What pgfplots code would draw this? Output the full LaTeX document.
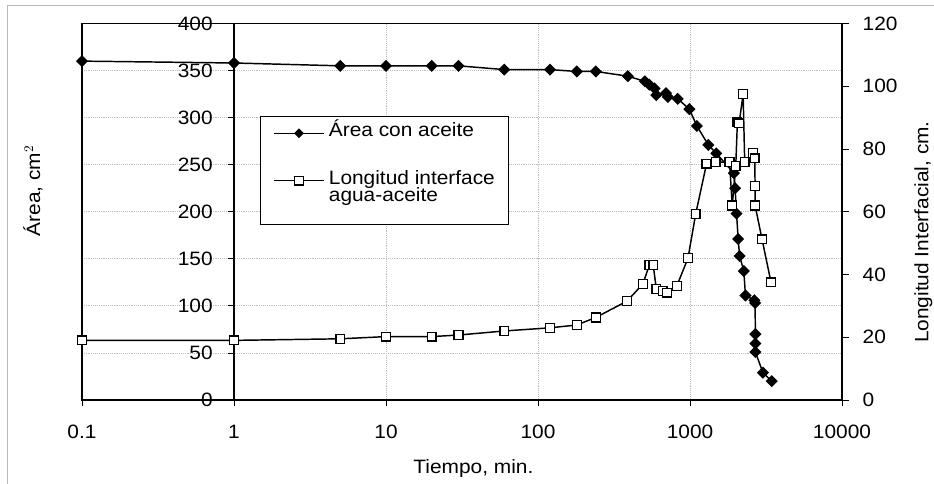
\documentclass[border=0pt]{standalone}
\usepackage{fontspec}
\setmainfont[FakeStretch=1.08]{Liberation Sans}
\usepackage{pgfplots}
\pgfplotsset{compat=1.18}

\pgfplotstableread{
t     area
0.1   360
1     358
5     355
10    355
20    355
30    355
60    351
120   351
180   349
240   349
390   344
505   338.5
540   335
585   331
600   324
695   326
715   322
830   320
990   309
1110  291
1320  271
1490  262
1944  241
1980  225
2024  198
2074  171
2120  153
2259  137
2317  111
2650  106
2680  103
2692  70
2692  60
2692  51
3020  29
3450  20
}\areatab

\pgfplotstableread{
t     len
0.1   19
1     19
5     19.5
10    20.2
20    20.2
30    20.7
60    22
120   23
180   23.9
240   26.3
385   31.5
490   37
540   43
573   43
600   35.4
660   34.8
705   34.2
820   36.4
970   45.2
1090  59.3
1285  75.3
1475  75.8
1820  75.8
1896  62
2000  74.6
2050  88.6
2104  88.2
2236  97.5
2290  75.8
2600  78.7
2667  77
2680  68.2
2680  62
2979  51.2
3412  37.5
}\lentab

\begin{document}
\begin{tikzpicture}[font=\fontsize{14.5}{17}\selectfont]
\useasboundingbox (-61.5pt,-63pt) rectangle (639pt,300pt);
% faint outer chart border
\draw[gray!55, line width=0.6pt] (-56.25pt,-63pt) -- (-56.25pt,296.25pt) -- (639pt,296.25pt);

\begin{axis}[
    scale only axis, width=570pt, height=282.4pt,
    xmode=log, xmin=0.1, xmax=10000,
    ymin=0, ymax=400,
    xtick={0.1,1,10,100,1000,10000},
    xticklabels={0.1,1,10,100,1000,10000},
    xminorticks=false,
    ytick={0,50,...,400},
    axis x line=bottom, axis y line=center,
    hide obscured y ticks=false,
    x axis line style={-}, y axis line style={-, line width=0.8pt},
    tick align=outside,
    major tick length=4.5pt,
    tick style={black, line width=0.6pt},
    xticklabel style={yshift=-11pt},
    yticklabel style={xshift=-8pt},
    ymajorgrids, xmajorgrids,
    grid style={densely dotted, gray!50, line width=0.6pt},
    /pgf/number format/assume math mode=true,
    xlabel={Tiempo, min.},
    ylabel={Área, cm$^2$},
    every axis x label/.style={at={(rel axis cs:0.515,-0.183)}, anchor=center},
    every axis y label/.style={at={(rel axis cs:-0.0645,0.555)}, rotate=90, anchor=center},
    clip=false,
]
\draw[black, line width=1.2pt] (rel axis cs:0,0) rectangle (rel axis cs:1,1);
\addplot[black, line width=1.1pt, mark=square*, mark size=2.65pt,
    mark options={rotate=45, fill=black}] table[x=t, y=area] {\areatab};
\end{axis}

\begin{axis}[
    scale only axis, width=570pt, height=282.4pt,
    xmode=log, xmin=0.1, xmax=10000,
    ymin=0, ymax=120,
    ytick={0,20,...,120},
    axis y line*=right, axis x line=none,
    y axis line style={-, line width=1.2pt},
    tick align=outside,
    major tick length=5pt,
    tick style={black, line width=0.6pt},
    yticklabel style={xshift=7pt},
    /pgf/number format/assume math mode=true,
    ylabel={Longitud Interfacial, cm.},
    every axis y label/.style={at={(rel axis cs:1.107,0.446)}, rotate=90, anchor=center},
    legend style={at={(rel axis cs:0.234,0.754)}, anchor=north west,
        draw=black, line width=0.8pt, fill=white,
        inner xsep=10pt, inner ysep=2pt, row sep=0pt, column sep=3pt,
        nodes={inner ysep=0.5pt, inner xsep=0.5pt},
        cells={anchor=base west}},
    legend image code/.code={
        \draw[mark repeat=2, mark phase=2, line width=0.9pt, #1]
        plot coordinates {(0pt,2.6pt) (18.5pt,2.6pt) (37pt,2.6pt)};},
]
\addlegendimage{black, mark=square*, mark size=2.1pt, mark options={rotate=45, fill=black}}
\addlegendentry{Área con aceite}
\addplot[black, line width=1.1pt, mark=square*, mark size=3.3pt,
    mark options={fill=white, line width=1pt}] table[x=t, y=len] {\lentab};
\addlegendentry{\rule{0pt}{33pt}Longitud interface}
\addlegendimage{empty legend}
\addlegendentry{agua-aceite}
\addlegendimage{empty legend}
\addlegendentry{\rule{0pt}{11pt}}
\end{axis}
\end{tikzpicture}
\end{document}
